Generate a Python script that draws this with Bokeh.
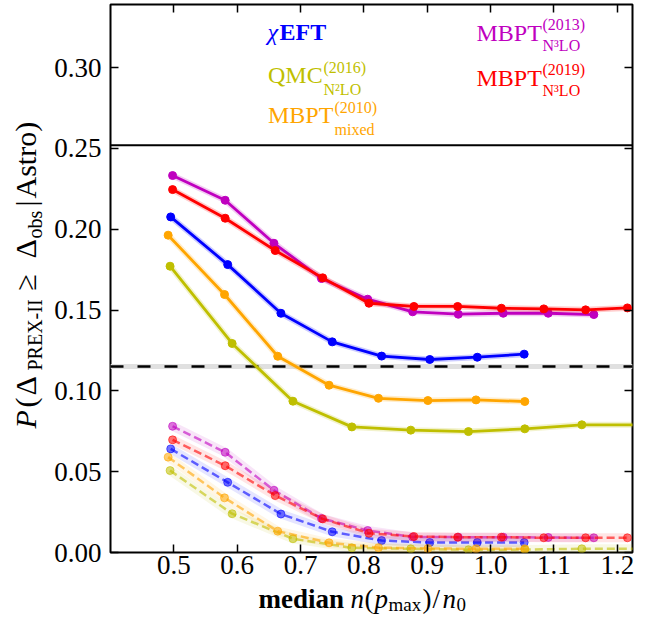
import math
from bokeh.plotting import figure
from bokeh.layouts import row, column
from bokeh.models import LinearAxis, FixedTicker, PrintfTickFormatter, Span, Label, Range1d
from bokeh.embed import file_html
from bokeh.resources import INLINE

# ---------------- data ----------------
x_chieft = [0.495, 0.585, 0.669, 0.750, 0.828, 0.904, 0.979, 1.053]
p_chieft_solid = [0.2076, 0.1781, 0.1480, 0.1303, 0.1215, 0.1194, 0.1208, 0.1227]
p_chieft_dash = [0.0641, 0.0434, 0.0238, 0.0128, 0.0074, 0.0062, 0.0062, 0.0062]

x_qmc = [0.494, 0.592, 0.688, 0.781, 0.874, 0.965, 1.054, 1.144, 1.234]
p_qmc_solid = [0.1771, 0.1293, 0.0936, 0.0777, 0.0757, 0.0748, 0.0765, 0.0790, 0.0790]
p_qmc_dash = [0.0507, 0.0240, 0.0085, 0.0029, 0.0023, 0.0017, 0.0018, 0.0023, 0.0023]

x_mbpt10 = [0.491, 0.580, 0.664, 0.745, 0.823, 0.901, 0.977, 1.054]
p_mbpt10_solid = [0.1963, 0.1596, 0.1214, 0.1035, 0.0954, 0.0940, 0.0944, 0.0934]
p_mbpt10_dash = [0.0590, 0.0338, 0.0132, 0.0060, 0.0030, 0.0025, 0.0023, 0.0023]

x_mbpt13 = [0.498, 0.581, 0.658, 0.733, 0.806, 0.877, 0.949, 1.020, 1.091, 1.163]
p_mbpt13_solid = [0.2332, 0.2179, 0.1913, 0.1695, 0.1567, 0.1489, 0.1474, 0.1480, 0.1480, 0.1472]
p_mbpt13_dash = [0.0781, 0.0620, 0.0385, 0.0211, 0.0136, 0.0096, 0.0095, 0.0095, 0.0093, 0.0091]

x_mbpt19 = [0.498, 0.581, 0.660, 0.735, 0.808, 0.879, 0.948, 1.017, 1.084, 1.150, 1.216]
p_mbpt19_solid = [0.2245, 0.2068, 0.1868, 0.1699, 0.1542, 0.1522, 0.1522, 0.1511, 0.1507, 0.1501, 0.1513]
p_mbpt19_dash = [0.0697, 0.0537, 0.0352, 0.0208, 0.0119, 0.0099, 0.0095, 0.0095, 0.0091, 0.0091, 0.0091]

threshold = 0.115
legend_split = 0.252
x_ticks = [0.5, 0.6, 0.7, 0.8, 0.9, 1.0, 1.1, 1.2]
y_ticks = [0.0, 0.05, 0.10, 0.15, 0.20, 0.25, 0.30]

BLUE, OLIVE, ORANGE, MAGENTA, RED = "#0000ff", "#bfbf00", "#ffa500", "#bf00bf", "#ff0000"
FONT = "Liberation Serif"
BASE_SHIFT = 0.4   # Label draws glyphs ~0.4em below the requested baseline

# ---------------- layout geometry (screen pixels) ----------------
W, H = 656, 618
YL_W = 46            # left strip for the y-axis title
XL_TOP = 585         # top of the bottom strip for the x-axis title
FL, FR, FT, FB = 110.0, 632.0, 4.0, 552.0   # plot frame
X0, X1 = 0.4, 1.224
Y0, Y1 = 0.0, 0.339

p = figure(width=W - YL_W, height=XL_TOP, x_range=Range1d(X0, X1), y_range=Range1d(Y0, Y1),
           output_backend="svg", toolbar_location=None,
           min_border_left=int(FL - YL_W), min_border_right=int(W - FR),
           min_border_top=int(FT), min_border_bottom=int(XL_TOP - FB))
p.grid.visible = False
p.outline_line_color = "black"
p.outline_line_width = 2
p.background_fill_color = "white"
p.border_fill_color = "white"

p.add_layout(LinearAxis(), "above")
p.add_layout(LinearAxis(), "right")

for ax in p.axis:
    ax.axis_line_color = None
    ax.major_tick_in = 8
    ax.major_tick_out = 0
    ax.minor_tick_line_color = None
    ax.major_tick_line_color = "black"
    ax.major_tick_line_width = 1.5
    ax.major_label_text_font = FONT
    ax.major_label_text_font_size = "27px"
    ax.major_label_text_color = "black"
for ax in p.xaxis:
    ax.ticker = FixedTicker(ticks=x_ticks)
    ax.formatter = PrintfTickFormatter(format="%.1f")
for ax in p.yaxis:
    ax.ticker = FixedTicker(ticks=y_ticks)
    ax.formatter = PrintfTickFormatter(format="%.2f")
for ax in (p.above[0], p.right[0]):
    ax.major_label_text_font_size = "1px"
    ax.major_label_text_color = None
    ax.major_label_standoff = 0
p.left[0].major_label_standoff = 9
p.below[0].major_label_standoff = 3

p.add_layout(Span(location=threshold, dimension="width", line_color="#e0e0e0", line_width=5, level="underlay"))
p.add_layout(Span(location=threshold, dimension="width", line_color="black", line_width=2.5,
                  line_dash="13 14", level="underlay"))
p.add_layout(Span(location=legend_split, dimension="width", line_color="black", line_width=2))

series = [
    (x_chieft, p_chieft_solid, p_chieft_dash, BLUE),
    (x_qmc, p_qmc_solid, p_qmc_dash, OLIVE),
    (x_mbpt10, p_mbpt10_solid, p_mbpt10_dash, ORANGE),
    (x_mbpt13, p_mbpt13_solid, p_mbpt13_dash, MAGENTA),
    (x_mbpt19, p_mbpt19_solid, p_mbpt19_dash, RED),
]
for xs, ys, yd, c in series:
    p.line(xs, yd, line_color=c, line_width=9, line_alpha=0.1)
    p.line(xs, yd, line_color=c, line_width=2.5, line_alpha=0.6, line_dash="8 4")
    p.scatter(xs, yd, size=8, fill_color=c, line_color=c, fill_alpha=0.55, line_alpha=0.55)
for xs, ys, yd, c in series:
    p.line(xs, ys, line_color=c, line_width=6, line_alpha=0.2)
    p.line(xs, ys, line_color=c, line_width=2.8)
    p.scatter(xs, ys, size=8, fill_color=c, line_color=c)


def dx(px):
    return X0 + (px - FL) / (FR - FL) * (X1 - X0)


def dy(py):
    return Y1 - (py - FT) / (FB - FT) * (Y1 - Y0)


def lab(fig, text, x, y, size, style="normal", color="black", angle=0.0):
    fig.add_layout(Label(x=x, y=y, x_units="data", y_units="data", text=text,
                         text_font=FONT, text_font_size=f"{size}px",
                         text_font_style=style, text_color=color, angle=angle,
                         text_align="left", text_baseline="alphabetic"))


def leg(text, px, py, size, style="normal", color="black"):
    lab(p, text, dx(px), dy(py - BASE_SHIFT * size), size, style, color)


# legend-like labels inside the frame (px, baseline py in screen pixels)
leg("χ", 267, 41, 24, "italic", BLUE)
leg("EFT", 279, 41, 24, "bold", BLUE)
leg("QMC", 267.5, 84, 24, "normal", OLIVE)
leg("(2016)", 323, 73, 16, "normal", OLIVE)
leg("N²LO", 323, 95, 16, "normal", OLIVE)
leg("MBPT", 267.5, 124, 24, "normal", ORANGE)
leg("(2010)", 334, 113, 16, "normal", ORANGE)
leg("mixed", 334, 135, 16, "normal", ORANGE)
leg("MBPT", 476, 42, 24, "normal", MAGENTA)
leg("(2013)", 542, 30, 16, "normal", MAGENTA)
leg("N³LO", 542, 51, 16, "normal", MAGENTA)
leg("MBPT", 476, 87, 24, "normal", RED)
leg("(2019)", 542, 75, 16, "normal", RED)
leg("N³LO", 542, 96, 16, "normal", RED)


def strip(w, h, xr, yr):
    f = figure(width=w, height=h, x_range=Range1d(*xr), y_range=Range1d(*yr),
               output_backend="svg", toolbar_location=None,
               x_axis_location=None, y_axis_location=None, min_border=0)
    f.grid.visible = False
    f.outline_line_color = None
    f.background_fill_color = "white"
    f.border_fill_color = "white"
    return f


# y-axis title strip (coordinates = screen pixels)
ys_fig = strip(YL_W, H, (0, YL_W), (H, 0))
R = math.pi / 2


def ylab(text, bx, py, size, style="normal"):
    lab(ys_fig, text, bx - BASE_SHIFT * size, py, size, style, angle=R)


ylab("P", 37, 428, 30, "italic")
ylab("(", 37, 407, 30)
ylab("Δ", 37, 395, 30)
ylab("PREX-II", 42, 370, 20)
ylab("≥", 37, 290, 30)
ylab("Δ", 37, 258, 30)
ylab("obs", 42, 238, 20)
ylab("|", 37, 206, 30)
ylab("Astro)", 37, 198, 30)

# x-axis title strip: its frame lines up with the plot frame, so data = screen pixels
xs_fig = strip(W - YL_W, H - XL_TOP, (FL, FR), (H, XL_TOP))


def xlab(text, px, by, size, style="normal"):
    lab(xs_fig, text, px, by - BASE_SHIFT * size, size, style)


xlab("median", 258, 609, 27, "bold")
xlab("n", 350, 609, 27, "italic")
xlab("(", 364, 609, 27)
xlab("p", 374, 609, 27, "italic")
xlab("max", 388, 612, 19)
xlab(")", 422, 609, 27)
xlab("/", 432, 609, 27)
xlab("n", 442, 609, 27, "italic")
xlab("0", 456, 612, 19)

layout = row(ys_fig, column(p, xs_fig))
open("out.html", "w").write(file_html(layout, INLINE))
